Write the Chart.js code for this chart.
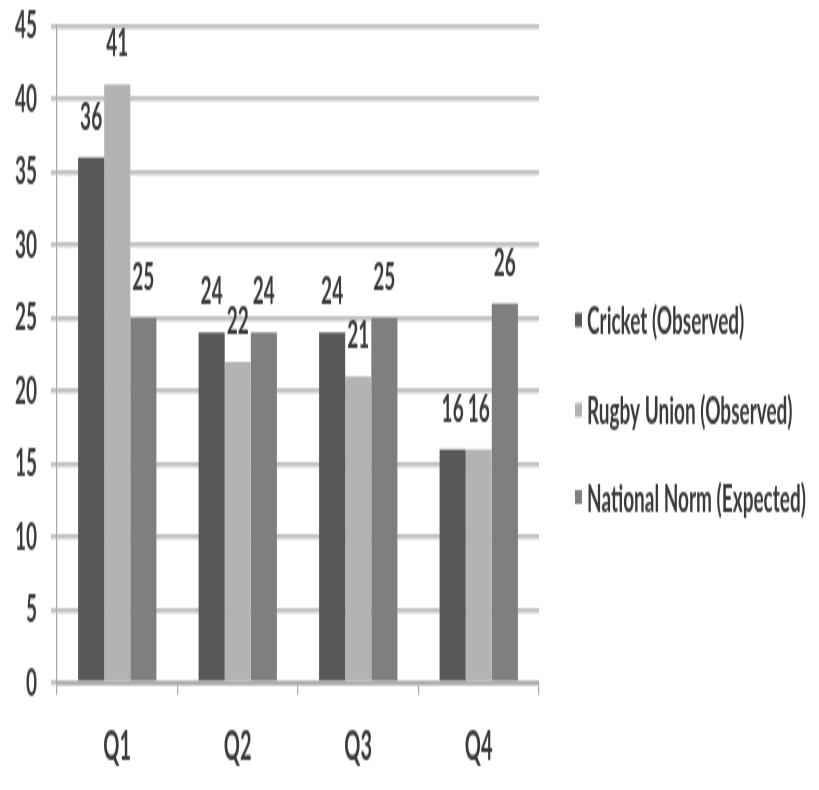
<!DOCTYPE html>
<html>
<head>
<meta charset="utf-8">
<script src="https://cdn.jsdelivr.net/npm/chart.js@4/dist/chart.umd.min.js"></script>
<style>
  html, body { margin: 0; padding: 0; background: #ffffff; }
  body { width: 819px; height: 790px; position: relative; }
  #wrap { position: absolute; left: 0; top: 0; width: 819px; height: 395px; transform: scaleY(2); transform-origin: 0 0; }
</style>
</head>
<body>
<div id="wrap"><canvas id="c" width="819" height="395"></canvas></div>
<script>
// Quarterly comparison: two observed sports against the national norm
const quarters = ['Q1', 'Q2', 'Q3', 'Q4'];
const cricket = [36, 24, 24, 16];
const rugbyUnion = [41, 22, 21, 16];
const nationalNorm = [25, 24, 25, 26];
const yTicks = [0, 5, 10, 15, 20, 25, 30, 35, 40, 45];

const seriesNames = ['Cricket (Observed)', 'Rugby Union (Observed)', 'National Norm (Expected)'];
const seriesColors = ['#595959', '#b3b3b3', '#7f7f7f'];

const FONT = 'Lato, "Liberation Sans", sans-serif';
const WEIGHT = 'bold';
const TEXT = '#3a3a3a';

// value labels above each bar
const valueLabels = {
  id: 'valueLabels',
  afterDatasetsDraw(chart) {
    const ctx = chart.ctx;
    ctx.save();
    ctx.font = WEIGHT + ' 19px ' + FONT;
    ctx.fillStyle = TEXT;
    ctx.textAlign = 'center';
    ctx.textBaseline = 'alphabetic';
    chart.data.datasets.forEach((ds, di) => {
      const meta = chart.getDatasetMeta(di);
      meta.data.forEach((bar, i) => {
        ctx.fillText(String(ds.data[i]), bar.x, bar.y - 14);
      });
    });
    ctx.restore();
  }
};

// legend at the right, small square marker + name
const sideLegend = {
  id: 'sideLegend',
  afterDraw(chart) {
    const ctx = chart.ctx;
    const rows = [160, 205, 248.5];
    ctx.save();
    ctx.font = WEIGHT + ' 19px ' + FONT;
    ctx.textAlign = 'left';
    ctx.textBaseline = 'middle';
    chart.data.datasets.forEach((ds, di) => {
      const y = rows[di];
      ctx.fillStyle = ds.backgroundColor;
      ctx.fillRect(575, y - 3.5, 7, 7);
      ctx.fillStyle = TEXT;
      ctx.fillText(ds.label, 587, y + 1);
    });
    ctx.restore();
  }
};

new Chart(document.getElementById('c'), {
  type: 'bar',
  data: {
    labels: quarters,
    datasets: [
      { label: seriesNames[0], data: cricket, backgroundColor: seriesColors[0] },
      { label: seriesNames[1], data: rugbyUnion, backgroundColor: seriesColors[1] },
      { label: seriesNames[2], data: nationalNorm, backgroundColor: seriesColors[2] }
    ]
  },
  options: {
    responsive: false,
    animation: false,
    devicePixelRatio: 1,
    layout: { padding: { top: 13, right: 280, left: 0, bottom: 0 } },
    datasets: { bar: { categoryPercentage: 0.65, barPercentage: 1.0 } },
    plugins: { legend: { display: false }, tooltip: { enabled: false } },
    scales: {
      x: {
        afterFit(scale) { scale.height = 53.5; scale.paddingLeft = 0; scale.paddingRight = 0; },
        border: { display: true, color: '#a8a8a8', width: 1.5 },
        grid: { display: true, drawOnChartArea: false, drawTicks: true, tickLength: 6, color: '#a8a8a8', lineWidth: 1.2, offset: true },
        ticks: { color: TEXT, font: { family: FONT, size: 20, weight: WEIGHT }, padding: 14 }
      },
      y: {
        min: 0,
        max: 45,
        afterFit(scale) { scale.width = 57; scale.paddingTop = 0; scale.paddingBottom = 0; },
        afterBuildTicks(scale) { scale.ticks = yTicks.map(v => ({ value: v })); },
        border: { display: true, color: '#a8a8a8', width: 1.2 },
        grid: { color: '#c4c4c4', lineWidth: 2.5, tickLength: 6, drawTicks: true },
        ticks: { color: TEXT, font: { family: FONT, size: 19, weight: WEIGHT }, padding: 14 }
      }
    }
  },
  plugins: [valueLabels, sideLegend]
});
</script>
</body>
</html>
